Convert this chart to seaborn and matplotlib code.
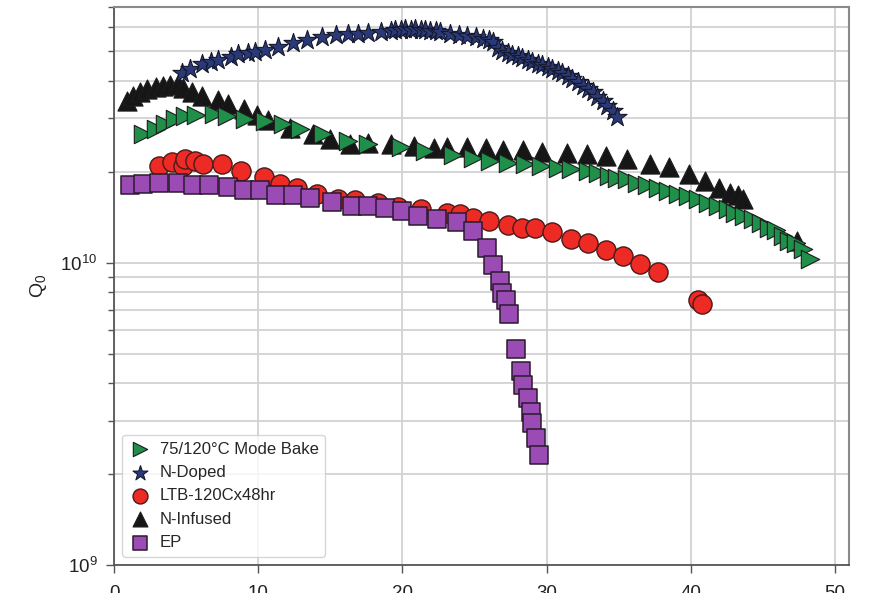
import seaborn as sns
import matplotlib.pyplot as plt

# accelerating gradient (MV/m) vs Q0 for five cavity treatments

# 75/120C mode bake (green right triangles)
bake_x = [2.0, 2.9, 3.5, 4.2, 4.9, 5.7, 6.9, 7.8, 9.1, 10.5, 11.7, 12.9, 14.5, 16.2,
          17.6, 19.9, 21.6, 23.5, 24.9, 26.1, 27.3, 28.5, 29.6, 30.8, 31.7, 32.9,
          33.6, 34.3, 34.9, 35.6, 36.3, 37.0, 37.7, 38.4, 39.1, 39.8, 40.5, 41.2,
          41.9, 42.6, 43.1, 43.7, 44.3, 44.9, 45.4, 45.9, 46.4, 46.8, 47.3, 47.8, 48.3]
bake_q = [2.66e10, 2.77e10, 2.88e10, 2.99e10, 3.06e10, 3.08e10, 3.10e10, 3.06e10,
          2.99e10, 2.94e10, 2.88e10, 2.77e10, 2.66e10, 2.53e10, 2.47e10, 2.41e10,
          2.34e10, 2.27e10, 2.22e10, 2.17e10, 2.14e10, 2.12e10, 2.09e10, 2.06e10,
          2.04e10, 2.01e10, 1.98e10, 1.94e10, 1.91e10, 1.89e10, 1.84e10, 1.80e10,
          1.77e10, 1.73e10, 1.69e10, 1.66e10, 1.63e10, 1.58e10, 1.54e10, 1.51e10,
          1.46e10, 1.43e10, 1.40e10, 1.35e10, 1.30e10, 1.28e10, 1.23e10, 1.18e10,
          1.16e10, 1.11e10, 1.03e10]

# N-doped (stars)
doped_x = [4.7, 5.3, 6.1, 6.7, 7.2, 8.1, 8.6, 9.3, 9.8, 10.5, 11.4, 12.4, 13.4, 14.4,
           15.4, 16.2, 16.9, 17.6, 18.5, 19.2, 19.5, 19.9, 20.2, 20.6, 20.9, 21.3,
           21.6, 21.9, 22.3, 22.6, 23.3, 23.9, 24.5, 25.1, 25.6, 26.0, 26.3, 26.6,
           26.9, 27.3, 27.6, 28.0, 28.3, 28.7, 29.0, 29.4, 29.7, 30.1, 30.4, 30.8,
           31.1, 31.5, 31.8, 32.2, 32.5, 32.9, 33.2, 33.5, 33.9, 34.2, 34.6, 34.9]
doped_q = [4.24e10, 4.37e10, 4.54e10, 4.61e10, 4.68e10, 4.79e10, 4.90e10, 4.93e10,
           4.97e10, 5.05e10, 5.16e10, 5.32e10, 5.45e10, 5.57e10, 5.65e10, 5.70e10,
           5.70e10, 5.74e10, 5.78e10, 5.83e10, 5.87e10, 5.87e10, 5.92e10, 5.87e10,
           5.92e10, 5.87e10, 5.87e10, 5.83e10, 5.83e10, 5.78e10, 5.70e10, 5.65e10,
           5.61e10, 5.57e10, 5.49e10, 5.45e10, 5.36e10, 5.12e10, 5.01e10, 4.93e10,
           4.86e10, 4.82e10, 4.75e10, 4.68e10, 4.61e10, 4.54e10, 4.50e10, 4.43e10,
           4.37e10, 4.30e10, 4.24e10, 4.14e10, 4.05e10, 3.96e10, 3.84e10, 3.75e10,
           3.67e10, 3.53e10, 3.42e10, 3.30e10, 3.17e10, 3.03e10]

# LTB-120Cx48hr (red circles)
ltb_x = [3.1, 4.0, 4.8, 4.9, 5.6, 6.2, 7.5, 8.8, 10.4, 11.5, 12.7, 14.1, 15.5, 16.7,
         18.3, 19.7, 21.3, 23.1, 24.0, 24.9, 26.0, 27.3, 28.3, 29.2, 30.4, 31.7,
         32.9, 34.1, 35.3, 36.5, 37.7, 40.5, 40.8]
ltb_q = [2.09e10, 2.15e10, 2.09e10, 2.20e10, 2.17e10, 2.12e10, 2.12e10, 2.01e10,
         1.92e10, 1.82e10, 1.77e10, 1.69e10, 1.63e10, 1.61e10, 1.57e10, 1.53e10,
         1.50e10, 1.46e10, 1.45e10, 1.41e10, 1.37e10, 1.33e10, 1.30e10, 1.30e10,
         1.26e10, 1.20e10, 1.16e10, 1.10e10, 1.05e10, 0.99e10, 0.93e10, 7.55e9, 7.32e9]

# N-infused (black triangles)
inf_x = [0.9, 1.3, 1.8, 2.3, 2.9, 3.4, 3.9, 4.4, 4.8, 5.4, 6.1, 7.2, 7.9, 9.0, 9.9,
         10.7, 12.2, 13.8, 15.0, 16.4, 17.6, 19.2, 20.8, 22.2, 23.1, 24.5, 25.8,
         27.0, 28.4, 29.7, 31.4, 32.8, 34.1, 35.6, 37.2, 38.5, 39.9, 41.0, 42.0,
         42.7, 43.3, 43.6, 47.4]
inf_q = [3.42e10, 3.56e10, 3.67e10, 3.75e10, 3.81e10, 3.84e10, 3.87e10, 3.90e10,
         3.78e10, 3.67e10, 3.56e10, 3.45e10, 3.35e10, 3.22e10, 3.08e10, 2.96e10,
         2.79e10, 2.66e10, 2.57e10, 2.47e10, 2.49e10, 2.47e10, 2.43e10, 2.40e10,
         2.41e10, 2.41e10, 2.40e10, 2.36e10, 2.36e10, 2.32e10, 2.31e10, 2.29e10,
         2.25e10, 2.20e10, 2.12e10, 2.07e10, 1.97e10, 1.86e10, 1.77e10, 1.70e10,
         1.68e10, 1.63e10, 1.18e10]

# EP (purple squares)
ep_x = [1.1, 2.0, 3.1, 4.4, 5.5, 6.6, 7.9, 9.0, 10.1, 11.2, 12.4, 13.6, 15.1, 16.5,
        17.6, 18.8, 20.0, 21.1, 22.4, 23.8, 24.9, 25.9, 26.3, 26.8, 26.9, 27.2, 27.4,
        27.9, 28.2, 28.4, 28.7, 28.9, 29.0, 29.3, 29.5]
ep_q = [1.80e10, 1.82e10, 1.84e10, 1.84e10, 1.80e10, 1.80e10, 1.78e10, 1.74e10,
        1.74e10, 1.68e10, 1.68e10, 1.64e10, 1.59e10, 1.54e10, 1.54e10, 1.52e10,
        1.48e10, 1.43e10, 1.40e10, 1.36e10, 1.27e10, 1.12e10, 9.8e9, 8.7e9, 7.96e9,
        7.5e9, 6.79e9, 5.2e9, 4.4e9, 3.93e9, 3.56e9, 3.2e9, 2.94e9, 2.64e9, 2.31e9]

sns.set_style("white")
plt.rcParams['font.family'] = ['Liberation Sans', 'DejaVu Sans']
plt.rcParams['mathtext.default'] = 'regular'

fig = plt.figure(figsize=(8.71, 5.93), dpi=100)
ax = fig.add_axes([0.131, 0.047, 0.844, 0.941])

edge = '#1c1c1c'
sns.scatterplot(x=inf_x, y=inf_q, marker='^', s=190, color='#161616', edgecolor=edge,
                linewidth=0.8, label='N-Infused', ax=ax, zorder=3)
sns.scatterplot(x=ltb_x, y=ltb_q, marker='o', s=190, color='#ee2a24', edgecolor='#4a1a1a',
                linewidth=1.0, label='LTB-120Cx48hr', ax=ax, zorder=3)
sns.scatterplot(x=ep_x, y=ep_q, marker='s', s=175, color='#9a4cb4', edgecolor='#2a1a2e',
                linewidth=1.1, label='EP', ax=ax, zorder=4)
sns.scatterplot(x=bake_x, y=bake_q, marker='>', s=175, color='#1f8f4a', edgecolor=edge,
                linewidth=0.8, label='75/120\u00b0C Mode Bake', ax=ax, zorder=4)
sns.scatterplot(x=doped_x, y=doped_q, marker='*', s=210, color='#2a3a78', edgecolor='#15182c',
                linewidth=0.8, label='N-Doped', ax=ax, zorder=5)

ax.set_yscale('log')
ax.set_xlim(0, 51)
ax.set_ylim(1e9, 7e10)
ax.set_xticks([0, 10, 20, 30, 40, 50])
ax.set_yticks([1e9, 1e10])
ax.set_yticklabels(['$10^9$', '$10^{10}$'])
ax.set_ylabel('$Q_0$', fontsize=14, labelpad=8)

ax.grid(True, which='major', color='#d2d2d2', linewidth=1.3)
ax.grid(True, which='minor', axis='y', color='#d2d2d2', linewidth=1.3)
ax.tick_params(axis='both', which='major', labelsize=13.5, length=6, width=1,
               color='#555555', labelcolor='#222222', left=True, bottom=True)
ax.tick_params(axis='x', pad=8)
ax.tick_params(axis='y', which='major', pad=6)
ax.tick_params(axis='y', which='minor', length=4, width=1, color='#555555', left=True)
ax.yaxis.set_minor_formatter(plt.NullFormatter())

for side in ['left', 'bottom']:
    ax.spines[side].set_color('#555555')
    ax.spines[side].set_linewidth(1.3)
for side in ['top', 'right']:
    ax.spines[side].set_color('#8a8a8a')
    ax.spines[side].set_linewidth(1.5)

# legend in the original order
handles, labels = ax.get_legend_handles_labels()
order = ['75/120\u00b0C Mode Bake', 'N-Doped', 'LTB-120Cx48hr', 'N-Infused', 'EP']
h = [handles[labels.index(o)] for o in order]
ax.legend(h, order, loc='lower left', fontsize=12, markerscale=0.78,
          labelspacing=0.5, handlelength=1.3, handletextpad=0.55, borderaxespad=0.5,
          frameon=True, edgecolor='#cccccc', fancybox=True)

plt.savefig('out.png', dpi=100)
